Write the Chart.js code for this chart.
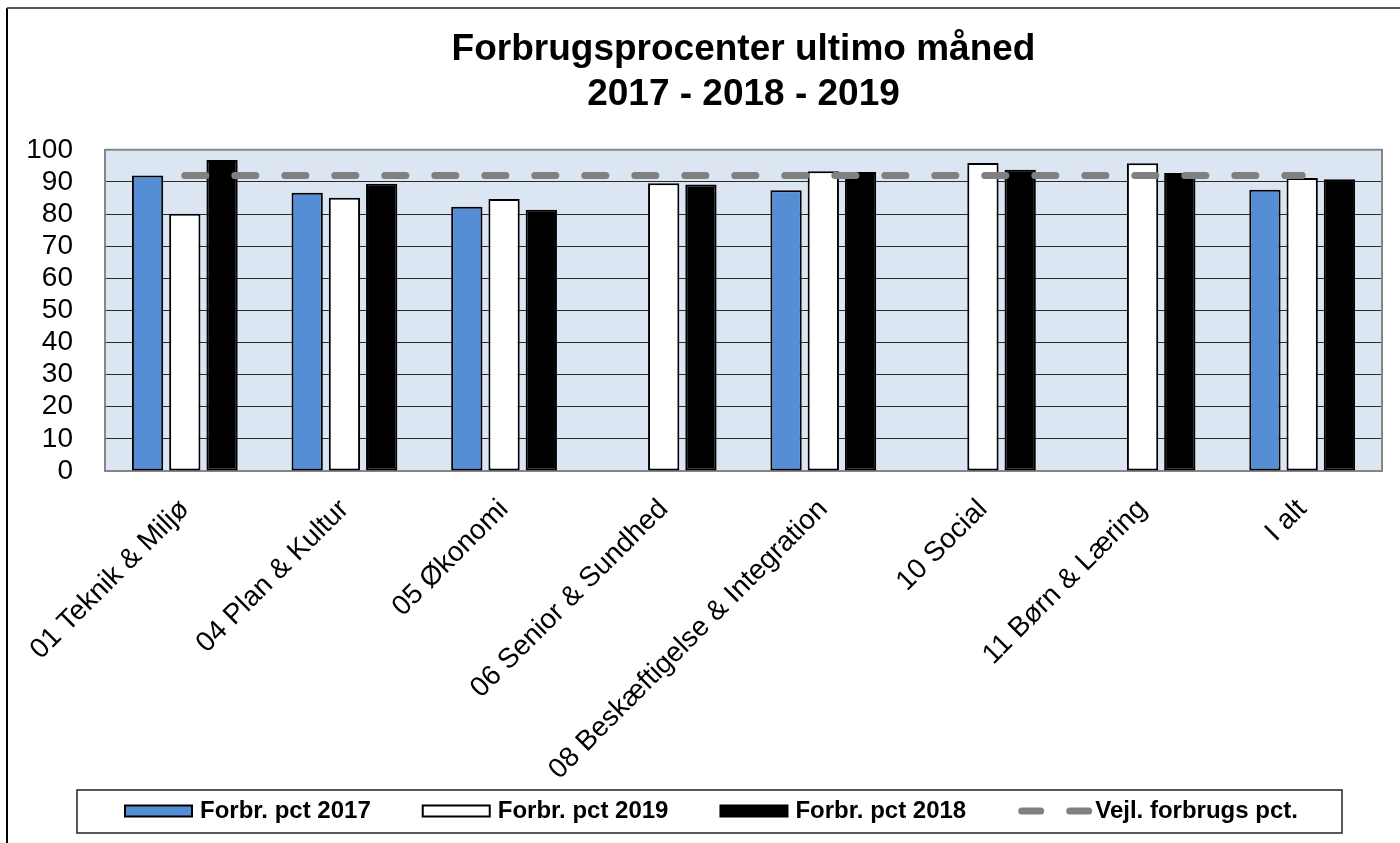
<!DOCTYPE html>
<html>
<head>
<meta charset="utf-8">
<script src="https://cdn.jsdelivr.net/npm/chart.js@4.4.0/dist/chart.umd.min.js"></script>
<style>
  html, body { margin: 0; padding: 0; background: #fff; }
  #wrap { width: 1400px; height: 843px; }
</style>
</head>
<body>
<div id="wrap"><canvas id="chart"></canvas></div>
<script>
const categories = [
    '01 Teknik & Miljø',
    '04 Plan & Kultur',
    '05 Økonomi',
    '06 Senior & Sundhed',
    '08 Beskæftigelse & Integration',
    '10 Social',
    '11 Børn & Læring',
    'I alt'
];
const pct2017 = [92.0, 86.6, 82.3, null, 87.4, null, null, 87.6];
const pct2019 = [80.1, 85.1, 84.7, 89.6, 93.3, 95.9, 95.8, 91.2];
const pct2018 = [96.8, 89.4, 81.3, 89.2, 93.1, 93.8, 92.8, 90.8];
const guideline = [92, 92, 92, 92, 92, 92, 92, 92];
const titleLines = ['Forbrugsprocenter ultimo måned', '2017 - 2018 - 2019'];

const FONT = 'Arial, "Liberation Sans", sans-serif';
Chart.defaults.font.family = FONT;
Chart.defaults.color = '#000';

// plot background and frame
const plotFrame = {
    id: 'plotFrame',
    beforeDraw(chart) {
        const { ctx, chartArea: a } = chart;
        ctx.save();
        ctx.fillStyle = '#DCE6F2';
        ctx.fillRect(a.left, a.top, a.right - a.left, a.bottom - a.top);
        ctx.restore();
    },
    beforeDatasetsDraw(chart) {
        const { ctx, chartArea: a } = chart;
        ctx.save();
        ctx.strokeStyle = '#868686';
        ctx.lineWidth = 2;
        ctx.beginPath();
        ctx.moveTo(a.left, a.top);
        ctx.lineTo(a.right, a.top);
        ctx.lineTo(a.right, a.bottom);
        ctx.stroke();
        ctx.restore();
    }
};

// boxed legend in the bottom strip, plus the outer chart border
const boxedLegend = {
    id: 'boxedLegend',
    afterDraw(chart) {
        const ctx = chart.ctx;
        const cy = 811;
        const symW = 67, symH = 11;
        ctx.save();
        ctx.font = 'bold 24px ' + FONT;
        ctx.textBaseline = 'middle';
        ctx.textAlign = 'left';

        let x = 125;
        chart.data.datasets.forEach(ds => {
            if (ds.type === 'line') {
                ctx.strokeStyle = ds.borderColor;
                ctx.lineWidth = 7;
                ctx.lineCap = 'round';
                ctx.setLineDash([19, 29]);
                ctx.beginPath();
                ctx.moveTo(x + 3.5, cy);
                ctx.lineTo(x + symW + 3.5, cy);
                ctx.stroke();
                ctx.setLineDash([]);
                ctx.lineCap = 'butt';
            } else {
                ctx.fillStyle = ds.backgroundColor;
                ctx.fillRect(x, cy - symH / 2, symW, symH);
                ctx.strokeStyle = '#000';
                ctx.lineWidth = 2;
                ctx.strokeRect(x, cy - symH / 2, symW, symH);
            }
            ctx.fillStyle = '#000';
            const tx = ds.type === 'line' ? x + symW + 10 : x + symW + 8;
            ctx.fillText(ds.label, tx, cy);
            x = tx + ctx.measureText(ds.label).width + 52;
        });

        ctx.strokeStyle = '#222';
        ctx.lineWidth = 1.5;
        ctx.strokeRect(77, 790, 1265, 43);

        ctx.strokeStyle = '#000';
        ctx.lineWidth = 2;
        ctx.beginPath();
        ctx.moveTo(7, 843);
        ctx.lineTo(7, 8);
        ctx.stroke();
        ctx.strokeStyle = '#555';
        ctx.beginPath();
        ctx.moveTo(7, 8);
        ctx.lineTo(1400, 8);
        ctx.stroke();
        ctx.restore();
    }
};

const ctx = document.getElementById('chart').getContext('2d');
new Chart(ctx, {
    data: {
        labels: categories,
        datasets: [
            {
                type: 'bar',
                label: 'Forbr. pct 2017',
                data: pct2017,
                backgroundColor: '#558ED5',
                borderColor: '#000',
                borderWidth: 2,
                borderSkipped: false
            },
            {
                type: 'bar',
                label: 'Forbr. pct 2019',
                data: pct2019,
                backgroundColor: '#FFFFFF',
                borderColor: '#000',
                borderWidth: 2,
                borderSkipped: false
            },
            {
                type: 'bar',
                label: 'Forbr. pct 2018',
                data: pct2018,
                backgroundColor: '#000000',
                borderColor: '#000',
                borderWidth: 2,
                borderSkipped: false
            },
            {
                type: 'line',
                label: 'Vejl. forbrugs pct.',
                data: guideline,
                borderColor: '#808080',
                backgroundColor: '#808080',
                borderWidth: 7,
                borderDash: [21, 29],
                borderCapStyle: 'round',
                pointRadius: 0,
                fill: false,
                order: -1
            }
        ]
    },
    options: {
        responsive: true,
        maintainAspectRatio: false,
        animation: false,
        layout: {
            padding: { left: 10, right: 18, top: 0, bottom: 52 }
        },
        datasets: {
            bar: { categoryPercentage: 0.7, barPercentage: 0.84 }
        },
        scales: {
            x: {
                grid: { display: false },
                border: { color: '#868686', width: 2 },
                ticks: {
                    autoSkip: false,
                    maxRotation: 45,
                    minRotation: 45,
                    padding: 14,
                    font: { size: 28 }
                },
                afterFit: scale => { scale.height = 320; }
            },
            y: {
                min: 0,
                max: 100,
                grid: { color: '#2b2b2b', lineWidth: 1, drawTicks: false },
                border: { color: '#868686', width: 2 },
                ticks: {
                    autoSkip: false,
                    stepSize: 10,
                    padding: 32,
                    font: { size: 28 }
                },
                afterFit: scale => { scale.width = 95; }
            }
        },
        plugins: {
            title: {
                display: true,
                text: titleLines,
                fullSize: false,
                color: '#000',
                font: { size: 37, weight: 'bold', lineHeight: 1.2 },
                padding: { top: 28, bottom: 33 }
            },
            tooltip: { enabled: false },
            legend: { display: false }
        }
    },
    plugins: [plotFrame, boxedLegend]
});
</script>
</body>
</html>
